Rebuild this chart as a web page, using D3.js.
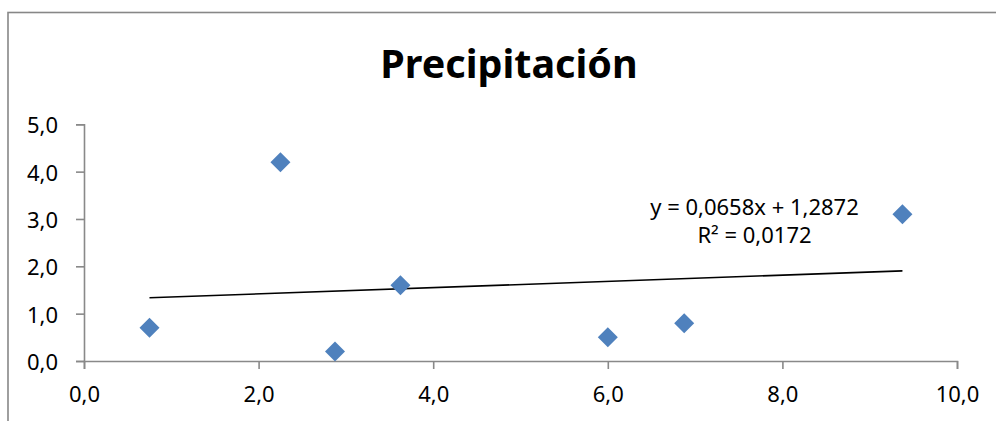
<!DOCTYPE html>
<html>
<head>
<meta charset="utf-8">
<script src="https://cdn.jsdelivr.net/npm/d3@7"></script>
<style>
  html, body { margin: 0; padding: 0; background: #fff; }
  svg { display: block; }
</style>
</head>
<body>
<svg class="chart"></svg>
<script>
'use strict';

var title = 'Precipitación';

// scatter values
var xValues = [0.75, 2.25, 2.875, 3.625, 6.0, 6.875, 9.375];
var yValues = [0.7, 4.2, 0.2, 1.6, 0.5, 0.8, 3.1];

// axis ticks
var xTicks = [0, 2, 4, 6, 8, 10];
var yTicks = [0, 1, 2, 3, 4, 5];

// trendline, as printed on the chart
var slope = 0.0658;
var intercept = 1.2872;
var rSquared = 0.0172;
var equationLines = ['y = 0,0658x + 1,2872', 'R² = 0,0172'];

var width = 996;
var height = 421;

var plotLeft = 84, plotRight = 957, plotTop = 124.3, plotBottom = 361;
var axisColor = '#898989';
var font = '"Noto Sans", "DejaVu Sans", sans-serif';

var svg = d3.select('.chart')
    .attr('width', width)
    .attr('height', height);

var x = d3.scaleLinear().domain([0, 10]).range([plotLeft, plotRight]);
var y = d3.scaleLinear().domain([0, 5]).range([plotBottom, plotTop]);

var fmt = function (d) {return d3.format('.1f')(d).replace('.', ',');};

// chart area border (runs off the right and bottom edge)
svg.append('rect')
    .attr('x', 8)
    .attr('y', 12.5)
    .attr('width', 1000)
    .attr('height', 420)
    .style('fill', 'none')
    .style('stroke', '#878787')
    .style('stroke-width', 1.6);

svg.append('text')
    .attr('x', 509)
    .attr('y', 78)
    .attr('text-anchor', 'middle')
    .style('font', 'bold 39.5px ' + font)
    .style('fill', '#000')
    .text(title);

// y axis
var yAxis = svg.append('g')
    .attr('transform', 'translate(' + plotLeft + ',0)')
    .call(d3.axisLeft(y).tickValues(yTicks).tickSize(8).tickPadding(18).tickFormat(fmt));

// x axis
var xAxis = svg.append('g')
    .attr('transform', 'translate(0,' + plotBottom + ')')
    .call(d3.axisBottom(x).tickValues(xTicks).tickSize(8).tickPadding(14).tickFormat(fmt));

[xAxis, yAxis].forEach(function (g) {
    g.select('.domain').style('stroke', axisColor).style('stroke-width', 1.6);
    g.selectAll('.tick line').style('stroke', axisColor).style('stroke-width', 1.6);
    g.selectAll('.tick text')
        .style('font', '22px ' + font)
        .style('fill', '#000');
});
yAxis.selectAll('.tick text').attr('dy', '0.38em');
xAxis.selectAll('.tick text').attr('dy', '0.85em');

// trendline over the data range
var xExtent = d3.extent(xValues);
svg.append('line')
    .attr('x1', x(xExtent[0]))
    .attr('y1', y(slope * xExtent[0] + intercept))
    .attr('x2', x(xExtent[1]))
    .attr('y2', y(slope * xExtent[1] + intercept))
    .style('stroke', '#000')
    .style('stroke-width', 1.6);

// diamond markers
var points = xValues.map(function (d, i) {return [d, yValues[i]];});
svg.append('g').selectAll('path')
    .data(points)
    .enter().append('path')
    .attr('d', d3.symbol(d3.symbolSquare, 200))
    .attr('transform', function (d) {return 'translate(' + x(d[0]) + ',' + y(d[1]) + ') rotate(45)';})
    .style('fill', '#4F81BD');

// equation label
svg.append('g').selectAll('text')
    .data(equationLines)
    .enter().append('text')
    .attr('x', 754.5)
    .attr('y', function (d, i) {return 215 + i * 28;})
    .attr('text-anchor', 'middle')
    .style('font', '22px ' + font)
    .style('fill', '#000')
    .text(function (d) {return d;});
</script>
</body>
</html>
